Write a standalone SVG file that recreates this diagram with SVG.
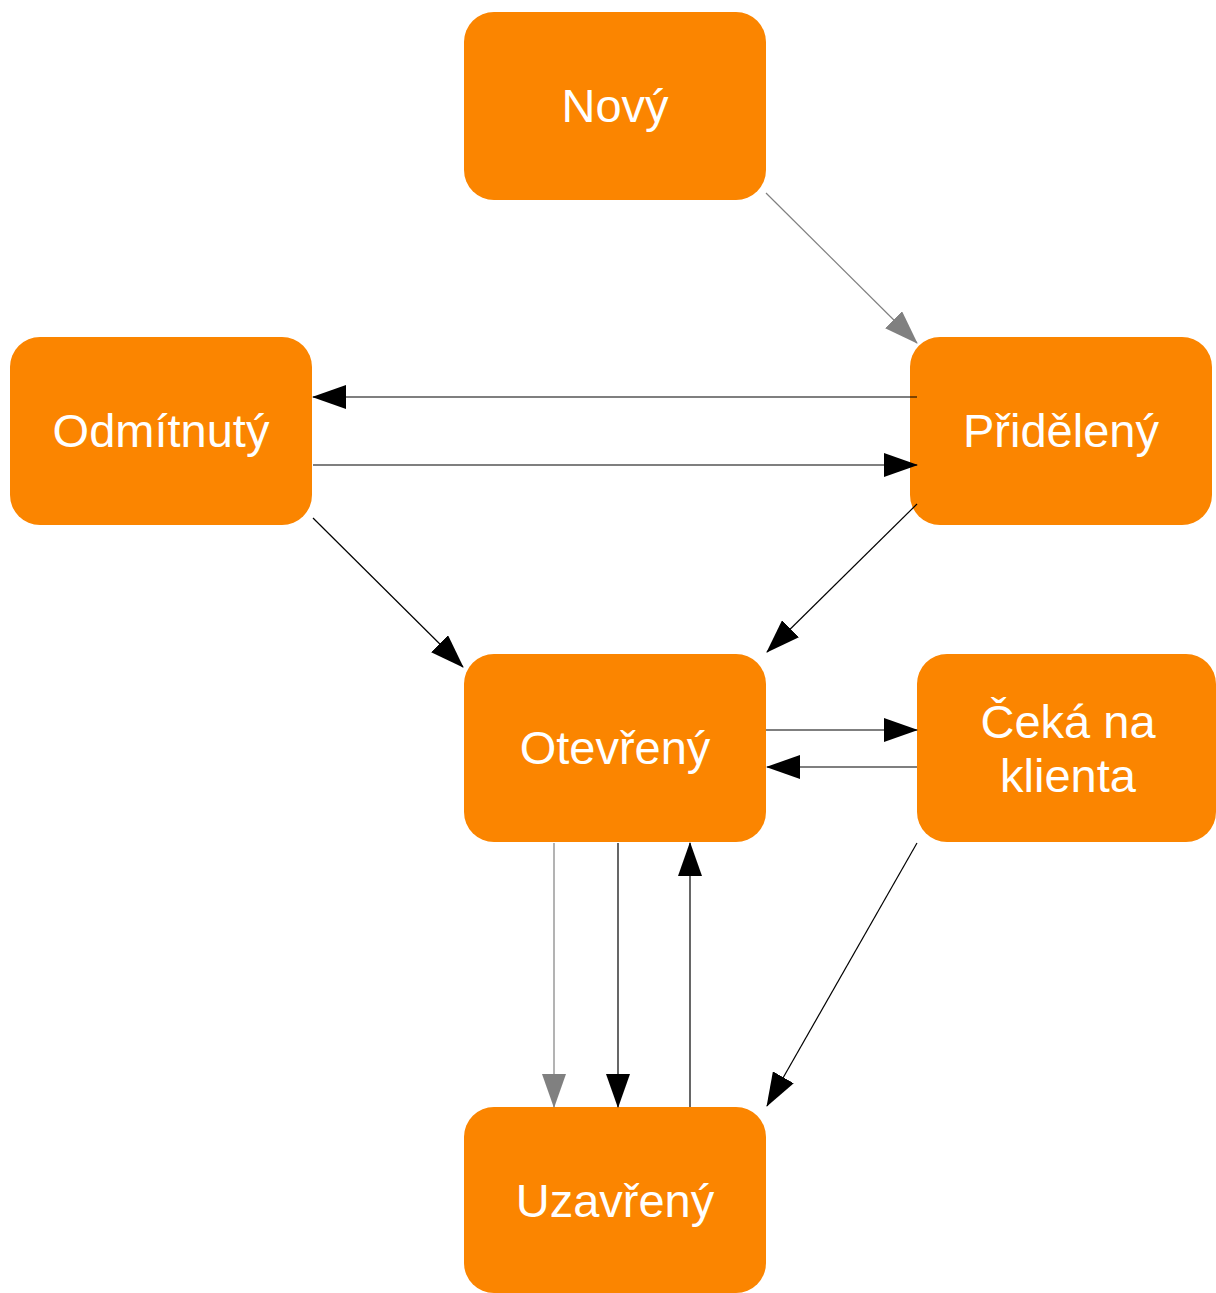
<svg xmlns="http://www.w3.org/2000/svg" width="1216" height="1293" viewBox="0 0 1216 1293">
<style>
.n{fill:#fb8500}
.t{fill:#fff;font-family:"Liberation Sans",Arial,sans-serif;font-size:47px;text-anchor:middle}
.c{fill:none;stroke:#000;stroke-width:1.2}
.g{stroke:#808080}
</style>
<defs>
<marker id="ab" markerUnits="userSpaceOnUse" markerWidth="34" markerHeight="24" viewBox="0 0 34 24" refX="33" refY="12" orient="auto"><path d="M0,0L34,12L0,24Z" fill="#000"/></marker>
<marker id="ag" markerUnits="userSpaceOnUse" markerWidth="34" markerHeight="24" viewBox="0 0 34 24" refX="33" refY="12" orient="auto"><path d="M0,0L34,12L0,24Z" fill="#808080"/></marker>
</defs>
<rect width="1216" height="1293" fill="#fff"/>
<g id="nodes">
<g id="novy"><rect class="n" x="464" y="12" width="302" height="188" rx="30"/><text class="t" x="615" y="122">Nový</text></g>
<g id="odmitnuty"><rect class="n" x="10" y="337" width="302" height="188" rx="30"/><text class="t" x="161" y="447">Odmítnutý</text></g>
<g id="prideleny"><rect class="n" x="910" y="337" width="302" height="188" rx="30"/><text class="t" x="1061" y="447">Přidělený</text></g>
<g id="otevreny"><rect class="n" x="464" y="654" width="302" height="188" rx="30"/><text class="t" x="615" y="764">Otevřený</text></g>
<g id="ceka"><rect class="n" x="917" y="654" width="299" height="188" rx="30"/><text class="t" x="1068" y="738">Čeká na</text><text class="t" x="1068" y="792">klienta</text></g>
<g id="uzavreny"><rect class="n" x="464" y="1107" width="302" height="186" rx="30"/><text class="t" x="615" y="1217">Uzavřený</text></g>
</g>
<g id="connectors">
<path class="c g" d="M766,193L917,343" marker-end="url(#ag)"/>
<path class="c" d="M917,397H313" marker-end="url(#ab)"/>
<path class="c" d="M313,465H917" marker-end="url(#ab)"/>
<path class="c" d="M313,518L463,667" marker-end="url(#ab)"/>
<path class="c" d="M917,504L767,652" marker-end="url(#ab)"/>
<path class="c" d="M766,730H917" marker-end="url(#ab)"/>
<path class="c" d="M917,767H767" marker-end="url(#ab)"/>
<path class="c g" d="M554,843V1107" marker-end="url(#ag)"/>
<path class="c" d="M618,843V1107" marker-end="url(#ab)"/>
<path class="c" d="M690,1107V843" marker-end="url(#ab)"/>
<path class="c" d="M917,843L767,1106" marker-end="url(#ab)"/>
</g>
</svg>
